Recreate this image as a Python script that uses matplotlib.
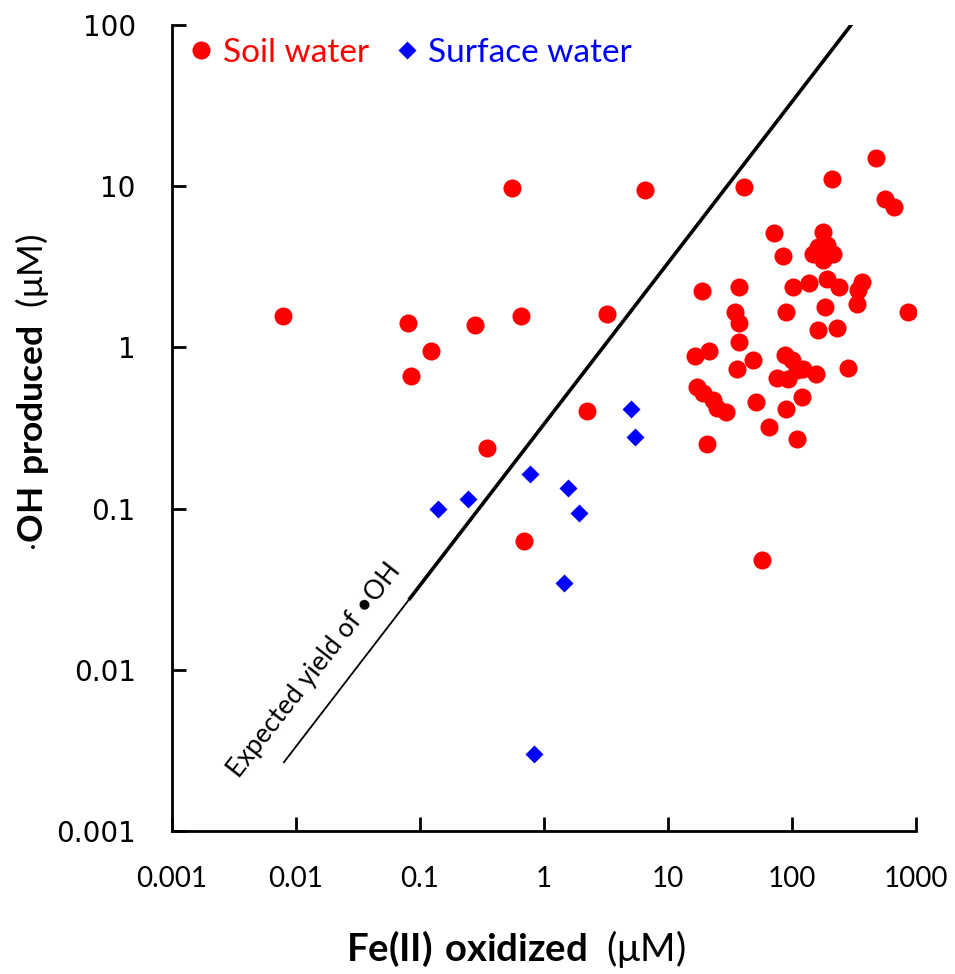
import matplotlib
matplotlib.use("Agg")
import matplotlib.pyplot as plt
from matplotlib.lines import Line2D

plt.rcParams['mathtext.fontset'] = 'custom'
plt.rcParams['mathtext.rm'] = 'Lato'
plt.rcParams['mathtext.bf'] = 'Lato:bold'

# Soil water (red circles)
soil_x = [0.00785, 0.080, 0.123, 0.0846, 0.278, 0.552, 0.653, 0.347, 0.69, 2.22,
          3.22, 6.53, 41, 475, 210, 562, 665, 71.6, 178, 84.5,
          147, 214, 178, 162, 191, 18.8, 37.4, 102, 137, 191,
          239, 367, 340, 334, 861, 185, 89.5, 34.7, 37.4, 162,
          231, 37.4, 16.5, 21.4, 48.4, 88, 100, 36, 282, 123,
          156, 75.7, 93, 110, 17.1, 19.2, 23.1, 24.9, 29.4, 51.3,
          89.5, 120, 65.3, 110, 20.7, 57.3]
soil_y = [1.57, 1.42, 0.95, 0.665, 1.38, 9.75, 1.57, 0.238, 0.063, 0.403,
          1.62, 9.46, 9.9, 15.0, 11.1, 8.33, 7.43, 5.13, 5.2, 3.69,
          3.8, 3.8, 3.48, 4.2, 4.3, 2.24, 2.37, 2.37, 2.51, 2.66,
          2.37, 2.55, 2.27, 1.86, 1.66, 1.78, 1.66, 1.66, 1.42, 1.28,
          1.32, 1.08, 0.885, 0.95, 0.836, 0.897, 0.836, 0.735, 0.75, 0.74,
          0.684, 0.646, 0.64, 0.72, 0.568, 0.521, 0.472, 0.421, 0.40, 0.459,
          0.415, 0.49, 0.321, 0.27, 0.252, 0.048]

# Surface water (blue diamonds)
surf_x = [0.14, 0.246, 0.78, 1.57, 1.93, 1.44, 0.83, 5.0, 5.42]
surf_y = [0.1, 0.114, 0.163, 0.135, 0.0935, 0.0347, 0.003, 0.413, 0.279]

# Expected yield line (1/3 of Fe(II) oxidized)
line_thin_x = [0.008, 0.083]
line_thin_y = [0.00267, 0.0277]
line_thick_x = [0.083, 300]
line_thick_y = [0.0277, 100]

xticks = [0.001, 0.01, 0.1, 1, 10, 100, 1000]
xticklabels = ['0.001', '0.01', '0.1', '1', '10', '100', '1000']
yticks = [0.001, 0.01, 0.1, 1, 10, 100]
yticklabels = ['0.001', '0.01', '0.1', '1', '10', '100']

fig = plt.figure(figsize=(9.55, 9.74), dpi=100)
ax = fig.add_axes([0.180, 0.1468, 0.779, 0.8275])

ax.plot(line_thin_x, line_thin_y, color='black', lw=1.3, zorder=2)
ax.plot(line_thick_x, line_thick_y, color='black', lw=2.6, zorder=2)

ax.plot(soil_x, soil_y, 'o', color='#ff0000', ms=13, mec='none', zorder=3)
ax.plot(surf_x, surf_y, 'D', color='#0000ff', ms=9, mec='none', zorder=3)

ax.set_xscale('log')
ax.set_yscale('log')
ax.set_xlim(0.001, 1000)
ax.set_ylim(0.001, 100)
ax.minorticks_off()
ax.set_xticks(xticks)
ax.set_xticklabels(xticklabels, fontfamily='Lato', fontsize=20)
ax.set_yticks(yticks)
ax.set_yticklabels(yticklabels, fontfamily='DejaVu Sans', fontsize=20)
ax.tick_params(axis='both', which='major', direction='in', length=10, width=2)
ax.tick_params(axis='x', pad=25)
ax.tick_params(axis='y', pad=26)

for s in ['top', 'right']:
    ax.spines[s].set_visible(False)
for s in ['left', 'bottom']:
    ax.spines[s].set_linewidth(2)

ax.set_xlabel(r'$\mathbf{Fe(II)\ oxidized}$  (μM)', fontfamily='Lato', fontsize=27.5)
ax.xaxis.set_label_coords(0.462, -0.120)
ax.set_ylabel(r'$\mathbf{\cdot OH\ produced}$  (μM)', fontfamily='Lato', fontsize=25.5)
ax.yaxis.set_label_coords(-0.163, 0.543)

ax.text(0.0142, 0.0100, 'Expected yield of •OH', rotation=52, rotation_mode='anchor',
        ha='center', va='center', fontsize=19, fontfamily='Lato', color='black')

handles = [Line2D([], [], marker='o', color='#ff0000', ls='none', ms=13, mec='none'),
           Line2D([], [], marker='D', color='#0000ff', ls='none', ms=9, mec='none')]
leg = ax.legend(handles, ['Soil water', 'Surface water'], loc='upper left', ncol=2,
                frameon=False, prop={'family': 'Lato', 'size': 24},
                handletextpad=0.14, columnspacing=0.65, handlelength=1.0,
                bbox_to_anchor=(0.0, 1.0), borderaxespad=0.0, borderpad=0.38)
for t, c in zip(leg.get_texts(), ['#ff0000', '#0000ff']):
    t.set_color(c)

fig.savefig('out.png', dpi=100)
